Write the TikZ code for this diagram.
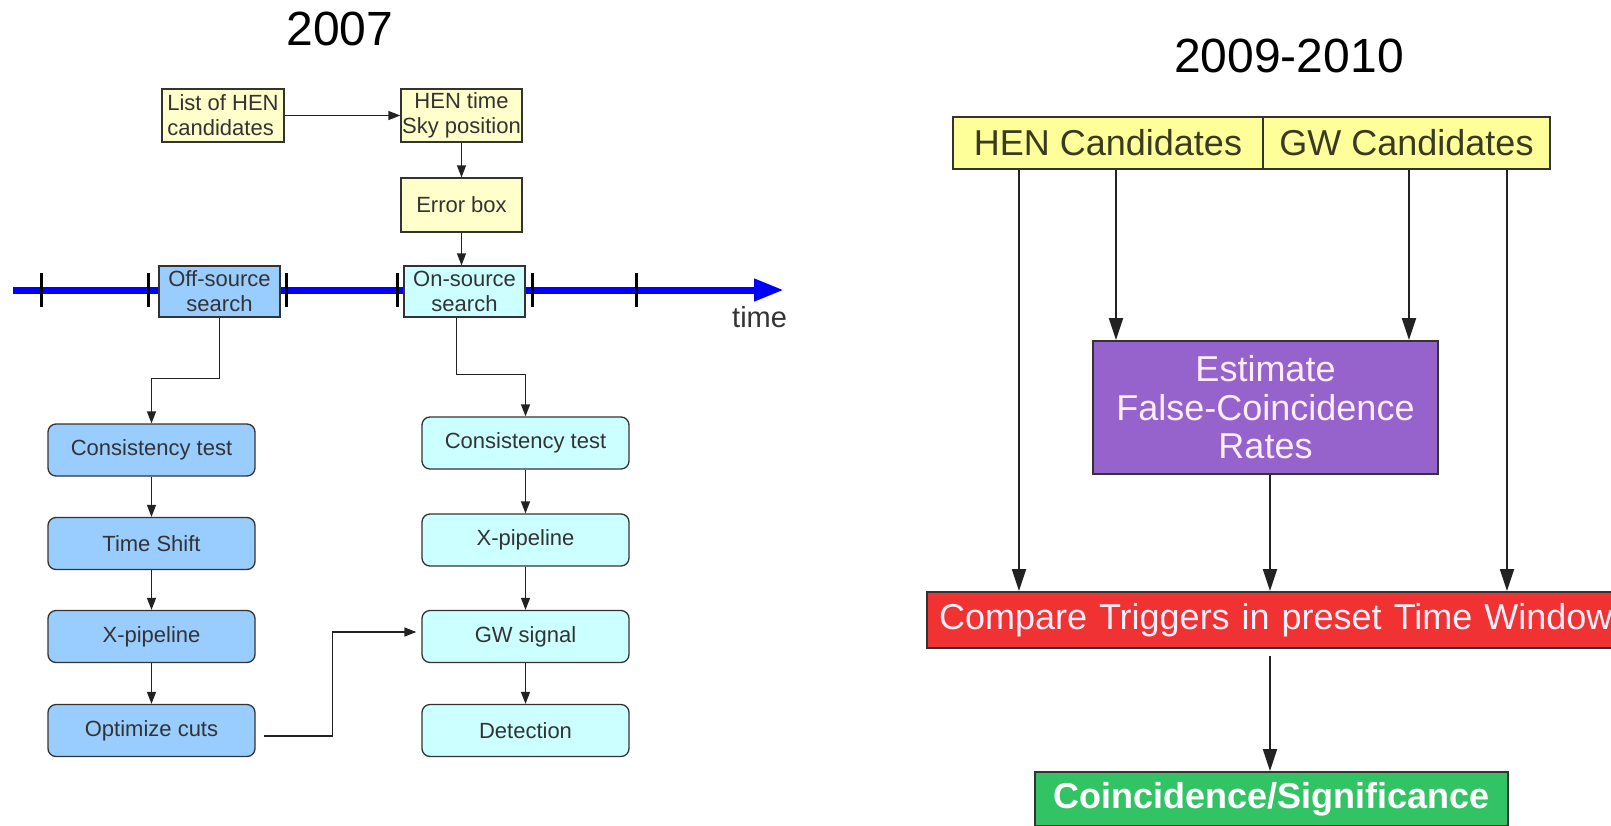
\documentclass[tikz,border=0pt]{standalone}
\usepackage{fontspec}
\setmainfont{Liberation Sans}
\usetikzlibrary{arrows.meta, positioning}

\definecolor{boxline}{HTML}{333333}
\definecolor{boxtext}{HTML}{333333}
\definecolor{arrowline}{HTML}{222222}
\definecolor{paleyellow}{HTML}{FFFFCC}
\definecolor{offblue}{HTML}{99CCFF}
\definecolor{oncyan}{HTML}{CCFFFF}
\definecolor{candyellow}{HTML}{FFFF99}
\definecolor{olivetext}{HTML}{3A3A22}
\definecolor{ratepurple}{RGB}{150,98,204}
\definecolor{triggerred}{RGB}{240,50,50}
\definecolor{signalgreen}{RGB}{50,195,100}
\definecolor{palepink}{HTML}{FFEEF8}

\begin{document}
\begin{tikzpicture}[x=1pt, y=-1pt,
    notebox/.style={draw=boxline, line width=1.3pt, fill=paleyellow, text=boxtext,
      font=\fontsize{22}{25}\selectfont, inner sep=0pt, align=center,
      minimum width=122pt, minimum height=53pt},
    searchbox/.style={notebox, minimum width=121pt, minimum height=51pt},
    stagebox/.style={draw=boxline, line width=1.3pt, rounded corners=8pt, text=boxtext,
      font=\fontsize{22}{25}\selectfont, minimum width=207pt, minimum height=52pt},
    flow/.style={draw=arrowline, line width=1.3pt, -{Triangle[length=12pt,width=9pt]}},
    bigflow/.style={draw=arrowline, line width=2pt, -{Triangle[length=22pt,width=14pt]}},
    panelbox/.style={draw=boxline, line width=2pt, inner sep=0pt,
      font=\fontsize{36}{38.5}\selectfont},
    tick/.style={black, line width=3pt},
  ]
  \clip (0,0) rectangle (1611,825);
  \fill[white] (0,0) rectangle (1611,825);

  % ---- 2007 search ----
  \node[anchor=base, inner sep=0pt, font=\fontsize{48}{48}\selectfont] (oldyear) at (340,45) {2007};

  \node[notebox, align=left] (list) at (223,115.5) {List of HEN\\candidates};
  \node[notebox, minimum width=121pt] (skypos) at (461.5,115.5) {HEN time\\Sky position};
  \node[notebox, minimum width=121pt, minimum height=54pt] (errbox) at (461.5,205) {Error box};

  % time axis with the analysis windows
  \draw[blue, line width=7pt, -{Triangle[length=30pt,width=21pt]}] (13,290) -- (784,290);
  \foreach \x in {41,148,286,397,532,636}
    \draw[tick] (\x,273) -- (\x,307);
  \node[anchor=base west, inner sep=0pt, text=boxtext, font=\fontsize{29}{29}\selectfont] (timelbl) at (732,327) {time};

  \node[searchbox, fill=offblue] (off) at (219.5,291.5) {Off-source\\search};
  \node[searchbox, fill=oncyan] (on) at (464.5,291.5) {On-source\\search};

  % off-source branch
  \node[stagebox, fill=offblue] (offct) at (151.5,450) {Consistency test};
  \node[stagebox, fill=offblue] (shift) at (151.5,543.5) {Time Shift};
  \node[stagebox, fill=offblue] (offxp) at (151.5,636.5) {X-pipeline};
  \node[stagebox, fill=offblue] (opt) at (151.5,730.5) {Optimize cuts};

  % on-source branch
  \node[stagebox, fill=oncyan] (onct) at (525.5,443) {Consistency test};
  \node[stagebox, fill=oncyan] (onxp) at (525.5,540) {X-pipeline};
  \node[stagebox, fill=oncyan] (gw) at (525.5,636.5) {GW signal};
  \node[stagebox, fill=oncyan] (detect) at (525.5,730.5) {Detection};

  \draw[flow] (list) -- (skypos);
  \draw[flow] (skypos) -- (errbox);
  \draw[flow] (errbox.south) -- (errbox.south |- on.north);
  \draw[flow] (off.south) -- ++(0,61) -| (offct.north);
  \draw[flow] ([xshift=-8pt]on.south) -- ++(0,57) -| (onct.north);
  \foreach \a/\b in {offct/shift, shift/offxp, offxp/opt, onct/onxp, onxp/gw, gw/detect}
    \draw[flow] (\a) -- (\b);
  \draw[flow] ([xshift=8pt,yshift=-5.5pt]opt.east) -- ++(69,0) |- ([xshift=-5pt,yshift=4.5pt]gw.west);

  % ---- 2009-2010 search ----
  \node[anchor=base, inner sep=0pt, font=\fontsize{48}{48}\selectfont] (newyear) at (1289,72) {2009-2010};

  \node[panelbox, fill=candyellow, text=olivetext, minimum width=310pt, minimum height=52pt] (hencand) at (1108,143) {HEN Candidates};
  \node[panelbox, fill=candyellow, text=olivetext, minimum width=287pt, minimum height=52pt] (gwcand) at (1406.5,143) {GW Candidates};
  \node[panelbox, fill=ratepurple, text=palepink, align=center, minimum width=345pt, minimum height=133pt] (estimate) at (1265.5,407.5) {Estimate\\False-Coincidence\\Rates};
  \node[panelbox, fill=triggerred, text=palepink, anchor=west, align=left, text width=786pt, inner xsep=12pt, minimum height=56pt, font=\fontsize{36}{36}\selectfont] (compare) at (926,620) {Compare Triggers in preset Time Window};
  \node[panelbox, fill=signalgreen, text=white, minimum width=473pt, minimum height=54pt, font=\bfseries\fontsize{36}{36}\selectfont] (coinc) at (1271.5,799) {Coincidence/Significance};

  \coordinate (c1) at ([xshift=-89pt]hencand.south);
  \coordinate (c2) at ([xshift=8pt]hencand.south);
  \coordinate (c3) at ([xshift=2.5pt]gwcand.south);
  \coordinate (c4) at ([xshift=100.5pt]gwcand.south);
  \coordinate (c5) at ([xshift=4.5pt]estimate.south);
  \path (compare.south -| c5) ++(0,7) coordinate (c6);

  \draw[bigflow] (c1) -- (c1 |- compare.north);
  \draw[bigflow] (c2) -- (c2 |- estimate.north);
  \draw[bigflow] (c3) -- (c3 |- estimate.north);
  \draw[bigflow] (c4) -- (c4 |- compare.north);
  \draw[bigflow] (c5) -- (c5 |- compare.north);
  \draw[bigflow] (c6) -- (c6 |- coinc.north);
\end{tikzpicture}
\end{document}
